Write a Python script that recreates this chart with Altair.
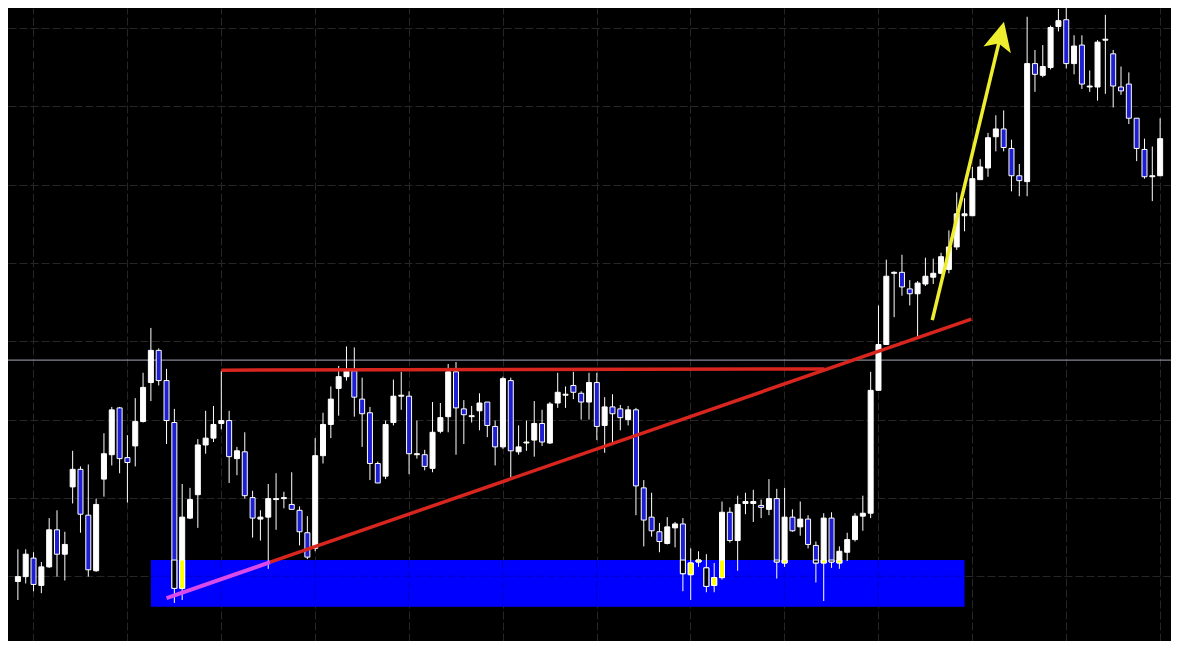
import altair as alt
import pandas as pd

# ---------------- data ----------------
# price levels in screen-style units: larger number = lower on the chart
opens = [588, 583, 564, 592, 573, 535, 560, 491, 473, 520,
         577, 483, 458, 410, 461, 449, 424, 384, 351, 382,
         425, 595, 523, 499, 448, 441, 426, 423, 462, 455,
         502, 524, 522, 504, 503, 509, 515, 538, 554, 459,
         427, 390, 378, 372, 401, 415, 467, 480, 425, 398,
         398, 458, 458, 472, 434, 419, 373, 411, 419, 413,
         404, 429, 450, 382, 455, 446, 443, 426, 446, 405,
         397, 387, 395, 404, 384, 428, 409, 411, 422, 412,
         492, 522, 537, 549, 533, 529, 581, 568, 574, 592,
         584, 517, 546, 508, 508, 510, 514, 503, 569, 522,
         532, 524, 551, 569, 523, 569, 558, 545, 521, 518,
         392, 345, 272, 271, 288, 293, 283, 276, 272, 268,
         245, 213, 213, 176, 164, 132, 124, 144, 172, 178,
         57, 69, 61, 19, 12, 57, 38, 81, 81, 33,
         47, 81, 78, 113, 145, 173, 172]
closes = [583, 560, 591, 573, 535, 560, 550, 473, 519, 576,
          509, 457, 412, 462, 466, 424, 389, 351, 382, 423,
          595, 522, 504, 448, 441, 427, 423, 460, 454, 500,
          523, 522, 503, 503, 502, 514, 537, 563, 459, 427,
          401, 378, 372, 399, 416, 467, 487, 427, 398, 397,
          457, 457, 470, 435, 420, 373, 410, 417, 418, 405,
          428, 450, 380, 454, 450, 445, 426, 445, 406, 394,
          396, 394, 404, 384, 429, 409, 416, 420, 412, 490,
          525, 536, 547, 532, 529, 580, 569, 566, 593, 584,
          517, 546, 509, 506, 506, 512, 503, 568, 522, 536,
          524, 550, 569, 523, 568, 557, 545, 521, 518, 392,
          345, 275, 271, 286, 293, 282, 275, 272, 255, 245,
          211, 211, 175, 163, 133, 124, 143, 172, 177, 57,
          68, 60, 20, 13, 57, 39, 78, 80, 35, 32,
          80, 85, 113, 144, 173, 172, 134]
highs = [555, 555, 558, 568, 523, 515, 537, 454, 470, 468,
         503, 436, 409, 409, 438, 400, 374, 328, 349, 370,
         411, 488, 492, 442, 413, 408, 372, 413, 450, 435,
         495, 515, 488, 477, 496, 476, 511, 521, 441, 415,
         388, 367, 347, 348, 379, 409, 465, 423, 381, 373,
         393, 423, 453, 404, 405, 365, 363, 402, 408, 395,
         404, 423, 378, 379, 428, 423, 403, 412, 404, 374,
         388, 373, 393, 374, 374, 399, 396, 407, 408, 410,
         484, 497, 528, 522, 527, 523, 554, 557, 560, 569,
         506, 512, 500, 497, 494, 504, 483, 493, 492, 514,
         506, 520, 547, 518, 517, 552, 538, 518, 500, 373,
         305, 258, 270, 253, 279, 280, 256, 257, 251, 228,
         189, 195, 163, 155, 128, 110, 105, 135, 160, 9,
         43, 38, 18, 1, 0, 28, 28, 64, 33, 7,
         43, 60, 66, 113, 134, 142, 113]
lows = [607, 590, 598, 600, 574, 583, 587, 508, 538, 583,
        578, 501, 469, 477, 507, 470, 425, 403, 387, 447,
        610, 607, 524, 533, 457, 445, 432, 487, 479, 503,
        543, 546, 575, 535, 513, 514, 551, 565, 557, 467,
        441, 418, 382, 419, 450, 484, 487, 483, 428, 412,
        478, 462, 474, 476, 436, 435, 458, 447, 425, 433,
        440, 469, 452, 481, 458, 454, 460, 449, 447, 410,
        410, 401, 422, 422, 443, 456, 445, 433, 428, 520,
        552, 542, 558, 550, 553, 598, 607, 573, 599, 599,
        586, 548, 577, 519, 527, 523, 520, 585, 573, 537,
        541, 554, 589, 608, 574, 575, 567, 547, 536, 523,
        392, 345, 317, 295, 305, 337, 285, 283, 273, 272,
        248, 229, 213, 176, 173, 147, 147, 188, 193, 193,
        86, 71, 63, 24, 62, 68, 83, 86, 95, 88,
        102, 89, 119, 157, 175, 198, 172]

# chart grid (candle index / price level)
grid_x = [1.96, 13.96, 25.96, 37.96, 49.96, 61.96, 73.96, 85.96,
          97.96, 109.96, 121.96, 133.96, 145.96]
grid_y = [20.5, 100.8, 181.1, 261.4, 341.7, 422.0, 502.3, 582.6]

# support zone (blue box)
zone_x = [17.0, 121.0]
zone_y = [566.0, 614.0]

# current price line
price_level = [361.0]

# resistance line (red, horizontal)
res_x = [26.0, 103.1]
res_y = [371.3, 370.0]

# rising trend line: magenta part then red part
trend_x = [19.0, 32.25, 121.875]
trend_y = [605.0, 568.2, 319.0]

# yellow arrow
arrow_x = [116.875, 125.54]
arrow_y = [320.0, 30.6]
head_x = [125.54]
head_y = [30.6]

# ---------------- build tables ----------------
n = len(opens)
df = pd.DataFrame({"i": list(range(n)), "open": opens, "close": closes,
                   "high": highs, "low": lows})
df["dir"] = ["up" if c < o else "down" for o, c in zip(opens, closes)]
df["top"] = df[["open", "close"]].min(axis=1)
df["bot"] = df[["open", "close"]].max(axis=1)
df["otop"] = df["top"].clip(lower=zone_y[0])
df["obot"] = df["bot"].clip(upper=zone_y[1])
ov = df[(df["otop"] < df["obot"]) & (df["i"] >= zone_x[0]) & (df["i"] <= zone_x[1])]

zone_df = pd.DataFrame({"x": [zone_x[0]], "x2": [zone_x[1]],
                        "y": [zone_y[0]], "y2": [zone_y[1]]})
zgv = pd.DataFrame({"x": [g for g in grid_x if zone_x[0] < g < zone_x[1]]})
zgv["y"] = zone_y[0]
zgv["y2"] = zone_y[1]
zgh = pd.DataFrame({"y": [g for g in grid_y if zone_y[0] < g < zone_y[1]]})
zgh["x"] = zone_x[0]
zgh["x2"] = zone_x[1]

price_df = pd.DataFrame({"y": price_level})
res_df = pd.DataFrame({"x": res_x, "y": res_y})
trend_df = pd.DataFrame({"x": trend_x, "y": trend_y})
arrow_df = pd.DataFrame({"x": arrow_x, "y": arrow_y})
head_df = pd.DataFrame({"x": head_x, "y": head_y})

# ---------------- scales / axes ----------------
xs = alt.Scale(domain=[-0.625, 146.75], nice=False, zero=False)
ys = alt.Scale(domain=[0, 649], reverse=True, nice=False, zero=False)
xax = alt.Axis(values=grid_x, grid=True, gridColor="#262626", gridDash=[8, 3],
               gridWidth=1, labels=False, ticks=False, domain=False, title=None)
yax = alt.Axis(values=grid_y, grid=True, gridColor="#262626", gridDash=[8, 3],
               gridWidth=1, labels=False, ticks=False, domain=False, title=None)


def X(f):
    return alt.X(f"{f}:Q", scale=xs, axis=xax)


def Y(f):
    return alt.Y(f"{f}:Q", scale=ys, axis=yax)


zone = alt.Chart(zone_df).mark_rect(color="#0000ff").encode(
    x=X("x"), x2="x2:Q", y=Y("y"), y2="y2:Q")

zone_grid_v = alt.Chart(zgv).mark_rule(color="#0000c4", strokeDash=[8, 3], strokeWidth=1).encode(
    x=X("x"), y=Y("y"), y2="y2:Q")
zone_grid_h = alt.Chart(zgh).mark_rule(color="#0000c4", strokeDash=[8, 3], strokeWidth=1).encode(
    y=Y("y"), x=X("x"), x2="x2:Q")

price_line = alt.Chart(price_df).mark_rule(color="#a3a8ba", strokeWidth=1).encode(y=Y("y"))

wicks = alt.Chart(df).mark_rule(color="#ffffff", strokeWidth=1).encode(
    x=X("i"), y=Y("high"), y2="low:Q")

bodies = alt.Chart(df).mark_bar(size=5, stroke="#ffffff", strokeWidth=1).encode(
    x=X("i"), y=Y("top"), y2="bot:Q",
    fill=alt.Fill("dir:N", scale=alt.Scale(domain=["up", "down"], range=["#ffffff", "#1e1ed2"]),
                  legend=None))

overlay = alt.Chart(ov).mark_bar(size=5, stroke="#ffffff", strokeWidth=1).encode(
    x=X("i"), y=Y("otop"), y2="obot:Q",
    fill=alt.Fill("dir:N", scale=alt.Scale(domain=["up", "down"], range=["#ffff00", "#000000"]),
                  legend=None))

res_line = alt.Chart(res_df).mark_line(color="#d8251e", strokeWidth=3.5).encode(
    x=X("x"), y=Y("y"))

trend_magenta = alt.Chart(trend_df.iloc[0:2]).mark_line(color="#d94ae8", strokeWidth=4).encode(
    x=X("x"), y=Y("y"))
trend_red = alt.Chart(trend_df.iloc[1:3]).mark_line(color="#d8251e", strokeWidth=3.5).encode(
    x=X("x"), y=Y("y"))

arrow_shaft = alt.Chart(arrow_df).mark_line(color="#eeee2e", strokeWidth=3.5).encode(
    x=X("x"), y=Y("y"))
arrow_head = alt.Chart(head_df).mark_point(
    shape="M0,-1 L0.85,0.75 L0,0.35 L-0.85,0.75 Z", size=1100, angle=13.6,
    filled=True, color="#eeee2e", opacity=1, strokeWidth=0).encode(x=X("x"), y=Y("y"))

chart = alt.layer(
    price_line, zone, zone_grid_v, zone_grid_h, wicks, bodies, overlay,
    res_line, trend_magenta, trend_red, arrow_shaft, arrow_head
).resolve_scale(fill="independent").properties(
    width=1163, height=633, padding=0,
    autosize=alt.AutoSizeParams(type="none"),
    background="#000000",
).configure_view(stroke=None)

chart.save("out.html", embed_options={"renderer": "svg", "actions": False})
